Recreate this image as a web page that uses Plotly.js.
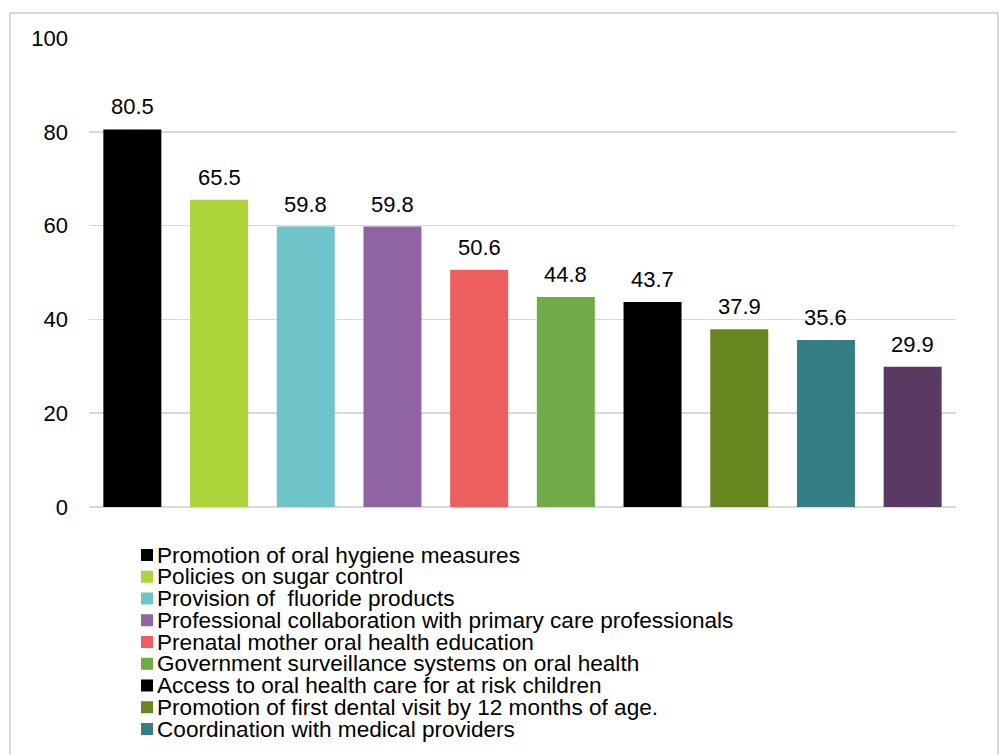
<!DOCTYPE html>
<html>
<head>
<meta charset="utf-8">
<script src="https://cdn.plot.ly/plotly-3.0.1.min.js"></script>
<style>
  html, body { margin: 0; padding: 0; background: #fff; }
  #wrap { position: relative; width: 999px; height: 755px; overflow: hidden; }
  #chart { position: absolute; left: 0; top: 0; width: 999px; height: 755px; }
  #frame { position: absolute; left: 9px; top: 12px; width: 990px; height: 760px;
           border: 2px solid #d9d9d9; box-sizing: border-box; pointer-events: none; }
</style>
</head>
<body>
<div id="wrap">
  <div id="chart"></div>
  <div id="frame"></div>
</div>
<script>
// ---- data ----
const categories = [
  "Promotion of oral hygiene measures",
  "Policies on sugar control",
  "Provision of  fluoride products",
  "Professional collaboration with primary care professionals",
  "Prenatal mother oral health education",
  "Government surveillance systems on oral health",
  "Access to oral health care for at risk children",
  "Promotion of first dental visit by 12 months of age.",
  "Coordination with medical providers",
  "Other"
];
const values = [80.5, 65.5, 59.8, 59.8, 50.6, 44.8, 43.7, 37.9, 35.6, 29.9];
const colors = ["#000000", "#ABD53B", "#6EC4C9", "#9064A3", "#EC5F5E",
                "#70AB48", "#000000", "#66861F", "#357F84", "#5A3A63"];
const legendCount = 9; // entries visible in the reference
const yTicks = [0, 20, 40, 60, 80, 100];

// ---- layout geometry (pixels) ----
const W = 999, H = 755;
const L = 89, R = 43, T = 38, B = 248;
const plotW = W - L - R, plotH = H - T - B;
const px2x = p => (p - L) / plotW;
const py2y = p => (H - B - p) / plotH;
const FONT = "Liberation Sans, Arial, sans-serif";
const FS = 22;
const LFS = 22.6;

const xIdx = categories.map((_, i) => i);

const trace = {
  type: "bar",
  x: xIdx,
  y: values,
  marker: { color: colors, line: { width: 0 } },
  hoverinfo: "skip",
  showlegend: false
};

const annotations = [];
// data labels
values.forEach((v, i) => {
  annotations.push({
    x: i, y: v, xref: "x", yref: "y",
    text: v.toFixed(1),
    showarrow: false,
    yanchor: "bottom", xanchor: "center",
    yshift: 8,
    font: { family: FONT, size: FS, color: "#000" }
  });
});

// legend (custom, to match row spacing)
const shapes = [];
const legTop = 555, legStep = 21.75, markX = 147, textX = 155;
for (let i = 0; i < legendCount; i++) {
  const cy = legTop + i * legStep;
  shapes.push({
    type: "rect", xref: "paper", yref: "paper",
    xsizemode: "pixel", ysizemode: "pixel",
    xanchor: px2x(markX), yanchor: py2y(cy),
    x0: -6, x1: 6, y0: -6, y1: 6,
    fillcolor: colors[i], line: { width: 0 }
  });
  annotations.push({
    xref: "paper", yref: "paper",
    x: px2x(textX), y: py2y(cy),
    xanchor: "left", yanchor: "middle",
    text: categories[i],
    showarrow: false,
    font: { family: FONT, size: LFS, color: "#000" }
  });
}

const layout = {
  width: W, height: H,
  margin: { l: L, r: R, t: T, b: B, pad: 0 },
  paper_bgcolor: "#fff",
  plot_bgcolor: "#fff",
  bargap: 0.331,
  showlegend: false,
  font: { family: FONT, size: FS, color: "#000" },
  xaxis: {
    range: [-0.5, categories.length - 0.5],
    showticklabels: false, ticks: "", showgrid: false, zeroline: false, showline: false,
    fixedrange: true
  },
  yaxis: {
    range: [0, 100],
    tickvals: yTicks,
    ticktext: yTicks.map(String),
    ticks: "",
    ticklabelstandoff: 20,
    showgrid: true, gridcolor: "#d9d9d9", gridwidth: 1.5,
    zeroline: true, zerolinecolor: "#d9d9d9", zerolinewidth: 1.5,
    showline: false,
    tickfont: { family: FONT, size: FS, color: "#000" },
    fixedrange: true
  },
  annotations: annotations,
  shapes: shapes
};

Plotly.newPlot("chart", [trace], layout, { displayModeBar: false, staticPlot: true });
</script>
</body>
</html>
